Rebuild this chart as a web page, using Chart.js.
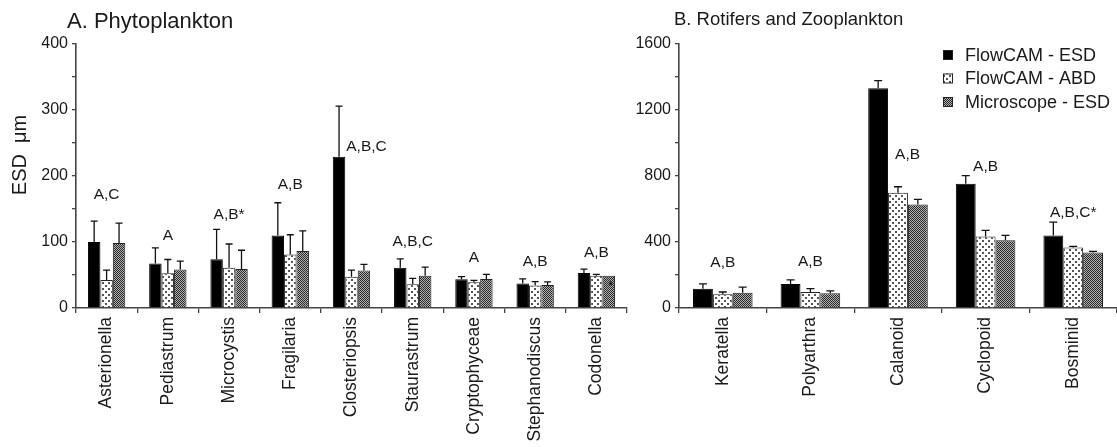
<!DOCTYPE html>
<html><head><meta charset="utf-8">
<script src="https://cdn.jsdelivr.net/npm/chart.js@4.4.1/dist/chart.umd.min.js"></script>
<style>
html,body{margin:0;padding:0;background:#fff;}
#wrap{position:relative;width:1117px;height:447px;overflow:hidden;background:#fff;}
#pa{position:absolute;left:0;top:0;width:640px;height:447px;}
#pb{position:absolute;left:628px;top:0;width:489px;height:447px;}
</style></head><body>
<div id="wrap"><div id="pa"><canvas id="ca"></canvas></div><div id="pb"><canvas id="cb"></canvas></div></div>
<script>
// ---------- DATA ----------
const seriesNames = ['FlowCAM - ESD', 'FlowCAM - ABD', 'Microscope - ESD'];

const phytoCategories = ['Asterionella','Pediastrum','Microcystis','Fragilaria','Closteriopsis','Staurastrum','Cryptophyceae','Stephanodiscus','Codonella'];
const phytoESD    = [100, 67.5, 74, 110, 229, 61, 43.5, 37, 53];
const phytoESDsd  = [31.5, 23.5, 45, 49.5, 77, 13.5, 4, 7, 6];
const phytoABD    = [42.5, 52.5, 61, 81, 47.5, 36, 39, 34, 49];
const phytoABDsd  = [15, 21, 36, 30, 10, 9, 3, 6, 2];
const phytoMic    = [98.5, 58.5, 59, 86.5, 57, 49, 44, 35, 49];
const phytoMicSd  = [30, 12.5, 28.5, 30.5, 9, 13, 7, 4.5, 0];
const phytoMicMark = ['', '', '', '', '', '', '', '', '*'];
const phytoSig    = ['A,C','A','A,B*','A,B','A,B,C','A,B,C','A','A,B','A,B'];
const phytoSigAt  = [172, 110, 142, 187, 245, 100, 76, 70, 84];
const phytoTicks  = [0, 100, 200, 300, 400];

const zooCategories = ['Keratella','Polyarthra','Calanoid','Cyclopoid','Bosminid'];
const zooESD    = [116, 146, 1332, 753, 440];
const zooESDsd  = [30, 25, 46, 49, 80];
const zooABD    = [83, 97, 698, 434, 367];
const zooABDsd  = [14, 21, 37, 37, 7];
const zooMic    = [93, 89, 627, 410, 337];
const zooMicSd  = [33, 15, 31, 30, 6];
const zooMicMark = ['', '', '', '', ''];
const zooSig    = ['A,B','A,B','A,B','A,B','A,B,C*'];
const zooSigAt  = [272, 278, 932, 855, 577];
const zooTicks  = [0, 400, 800, 1200, 1600];

// ---------- STYLE ----------
const FONT = 'Liberation Sans, Arial, Helvetica, sans-serif';
const INK = '#1a1a1a';

function dotPattern(){
  const c=document.createElement('canvas'); c.width=6; c.height=6;
  const g=c.getContext('2d'); g.fillStyle='#fff'; g.fillRect(0,0,6,6);
  g.fillStyle='#555'; g.fillRect(0,0,2,2); g.fillRect(3,3,2,2);
  return g.createPattern(c,'repeat');
}
function checkPattern(){
  const c=document.createElement('canvas'); c.width=2; c.height=2;
  const g=c.getContext('2d'); g.fillStyle='#b0b0b0'; g.fillRect(0,0,2,2);
  g.fillStyle='#2a2a2a'; g.fillRect(0,0,1,1); g.fillRect(1,1,1,1);
  return g.createPattern(c,'repeat');
}
const dotPat = dotPattern();
const chkPat = checkPattern();
const fills = ['#000', dotPat, chkPat];

function overlayPlugin(cfg){
  return {
    id:'overlay_'+cfg.id,
    afterDatasetsDraw(chart){
      const ctx=chart.ctx, ys=chart.scales.y;
      chart.data.datasets.forEach((ds,i)=>{
        const meta=chart.getDatasetMeta(i);
        meta.data.forEach((bar,j)=>{
          const sd=ds.errors[j];
          if(sd){
            const top=ys.getPixelForValue(ds.data[j]+sd);
            ctx.save(); ctx.strokeStyle='#111'; ctx.lineWidth=1.3;
            ctx.beginPath(); ctx.moveTo(bar.x,bar.y); ctx.lineTo(bar.x,top);
            ctx.moveTo(bar.x-cfg.cap,top); ctx.lineTo(bar.x+cfg.cap,top); ctx.stroke(); ctx.restore();
          }
          if(ds.marks && ds.marks[j]){
            ctx.save(); ctx.fillStyle='#111'; ctx.font='13px '+FONT; ctx.textAlign='center'; ctx.textBaseline='top';
            ctx.fillText(ds.marks[j], bar.x+2, bar.y+4); ctx.restore();
          }
        });
      });
      const m0=chart.getDatasetMeta(0), m1=chart.getDatasetMeta(1);
      ctx.save(); ctx.fillStyle=INK; ctx.font=cfg.sigFont+'px '+FONT; ctx.textBaseline='middle';
      cfg.sig.forEach((t,j)=>{
        const y=ys.getPixelForValue(cfg.sigAt[j]);
        const blackTop=chart.data.datasets[0].data[j]+chart.data.datasets[0].errors[j];
        if(cfg.sigAt[j] < blackTop){
          const b=m0.data[j];
          ctx.textAlign='left'; ctx.fillText(t, b.x + b.width/2 + cfg.sideGap, y);
        } else {
          ctx.textAlign='center'; ctx.fillText(t, m1.data[j].x, y);
        }
      });
      ctx.restore();
    },
    afterDraw(chart){
      const ctx=chart.ctx;
      ctx.save(); ctx.fillStyle=INK;
      ctx.font=cfg.titleFont+'px '+FONT; ctx.textAlign='left'; ctx.textBaseline='alphabetic';
      ctx.fillText(cfg.title, cfg.titleX, cfg.titleY);
      if(cfg.yTitle){
        ctx.save(); ctx.translate(cfg.yTitleX, cfg.yTitleY); ctx.rotate(-Math.PI/2);
        ctx.font='20px '+FONT; ctx.textAlign='center'; ctx.textBaseline='middle';
        ctx.fillText(cfg.yTitle,0,0); ctx.restore();
      }
      if(cfg.legend){
        const L=cfg.legend;
        chart.data.datasets.forEach((ds,i)=>{
          const cy=L.y+i*L.dy;
          ctx.fillStyle=fills[i]; ctx.fillRect(L.x, cy-L.box/2, L.box, L.box);
          ctx.strokeStyle='#222'; ctx.lineWidth=1; ctx.strokeRect(L.x+0.5, cy-L.box/2+0.5, L.box-1, L.box-1);
          ctx.fillStyle=INK; ctx.font=L.font+'px '+FONT; ctx.textAlign='left'; ctx.textBaseline='middle';
          ctx.fillText(ds.label, L.x+L.box+L.gap, cy+1);
        });
      }
      ctx.restore();
    }
  };
}

function makeChart(canvasId, cfg){
  return new Chart(document.getElementById(canvasId), {
    type:'bar',
    data:{labels:cfg.labels, datasets:[
      {label:seriesNames[0], data:cfg.esd, errors:cfg.esdSd, backgroundColor:fills[0], borderColor:'#000', borderWidth:1},
      {label:seriesNames[1], data:cfg.abd, errors:cfg.abdSd, backgroundColor:fills[1], borderColor:'#222', borderWidth:1},
      {label:seriesNames[2], data:cfg.mic, errors:cfg.micSd, marks:cfg.micMark, backgroundColor:fills[2], borderColor:'#222', borderWidth:1}
    ]},
    options:{
      responsive:true, maintainAspectRatio:false, animation:false,
      layout:{padding:{top:44,left:0,right:cfg.padRight,bottom:0}},
      datasets:{bar:{categoryPercentage:cfg.catPct, barPercentage:1.0}},
      plugins:{legend:{display:false}, tooltip:{enabled:false}, title:{display:false}},
      scales:{
        x:{
          grid:{display:true, drawOnChartArea:false, offset:true, tickLength:5, color:'#444', lineWidth:1.3},
          border:{display:true, color:'#444', width:1.6},
          ticks:{autoSkip:false, minRotation:90, maxRotation:90, padding:4, color:INK, font:{family:FONT, size:17.5}},
          afterFit:s=>{ s.height = 447-308; }
        },
        y:{
          min:cfg.ticks[0], max:cfg.ticks[cfg.ticks.length-1],
          grid:{display:true, drawOnChartArea:false, tickLength:4, color:'#444', lineWidth:1.3},
          border:{display:true, color:'#444', width:1.6},
          ticks:{stepSize:(cfg.ticks[1]-cfg.ticks[0])/2, padding:4, color:INK, font:{family:FONT, size:16},
                 callback:v=> cfg.ticks.includes(v) ? String(v) : ''},
          afterFit:s=>{ s.width = cfg.yWidth; }
        }
      }
    },
    plugins:[overlayPlugin(cfg)]
  });
}

makeChart('ca', {
  id:'a', labels:phytoCategories, esd:phytoESD, esdSd:phytoESDsd, abd:phytoABD, abdSd:phytoABDsd,
  mic:phytoMic, micSd:phytoMicSd, micMark:phytoMicMark, sig:phytoSig, sigAt:phytoSigAt, ticks:phytoTicks,
  padRight:13, catPct:0.61, yWidth:76, cap:3.5, sigFont:15.5, sideGap:1,
  title:'A. Phytoplankton', titleFont:22, titleX:67, titleY:28,
  yTitle:'ESD  \u03bcm', yTitleX:20, yTitleY:155
});
makeChart('cb', {
  id:'b', labels:zooCategories, esd:zooESD, esdSd:zooESDsd, abd:zooABD, abdSd:zooABDsd,
  mic:zooMic, micSd:zooMicSd, micMark:zooMicMark, sig:zooSig, sigAt:zooSigAt, ticks:zooTicks,
  padRight:0, catPct:0.68, yWidth:51, cap:4, sigFont:15.5, sideGap:7,
  title:'B. Rotifers and Zooplankton', titleFont:18.5, titleX:46, titleY:25,
  legend:{x:315, y:55, dy:23.5, box:10, gap:12, font:18}
});
</script>
</body></html>
